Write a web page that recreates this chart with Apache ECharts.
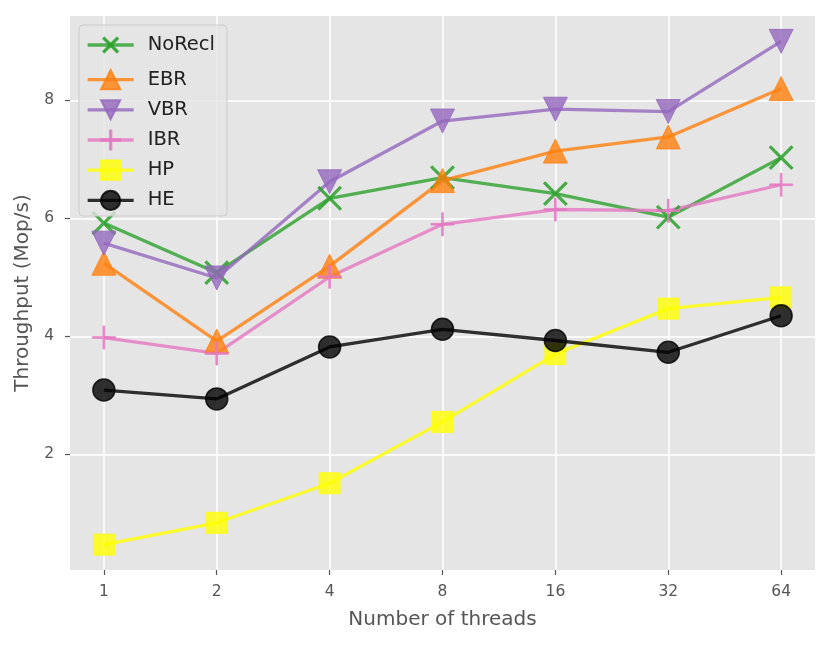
<!DOCTYPE html>
<html><head><meta charset="utf-8">
<script src="https://cdn.jsdelivr.net/npm/echarts@6/dist/echarts.min.js"></script>
<style>html,body{margin:0;padding:0;background:#fff}#c{width:831px;height:646px}</style>
</head><body><div id="c"></div>
<script>
const categories = ['1','2','4','8','16','32','64'];
const noRecl = [5.92, 5.08, 6.34, 6.69, 6.42, 6.02, 7.03];
const ebr    = [5.24, 3.92, 5.19, 6.64, 7.14, 7.38, 8.20];
const vbr    = [5.58, 4.99, 6.62, 7.65, 7.85, 7.81, 9.00];
const ibr    = [3.98, 3.71, 5.01, 5.90, 6.15, 6.13, 6.57];
const hp     = [0.47, 0.84, 1.51, 2.55, 3.70, 4.47, 4.66];
const he     = [3.09, 2.94, 3.82, 4.12, 3.93, 3.73, 4.35];
const yTicks = [2, 4, 6, 8];

const PLUS = 'path://M9.3,0 H10.7 V9.3 H20 V10.7 H10.7 V20 H9.3 V10.7 H0 V9.3 H9.3 Z';
const toPts = arr => arr.map((v, i) => [i, v]);

function mk(name, data, color, symbol, size, extra) {
  return Object.assign({
    name, type: 'line', data: toPts(data),
    symbol, symbolSize: size,
    lineStyle: { color, width: 3.3, opacity: 0.8 },
    itemStyle: { color, opacity: 0.8, borderColor: color, borderWidth: 1 },
    emphasis: { disabled: true },
    animation: false
  }, extra || {});
}

const series = [
  mk('NoRecl', noRecl, '#2ca02c', PLUS, 31, { symbolRotate: 45 }),
  mk('EBR', ebr, '#ff7f0e', 'triangle', 24),
  mk('VBR', vbr, '#9467bd', 'triangle', 24, { symbolRotate: 180 }),
  mk('IBR', ibr, '#e377c2', PLUS, 23),
  mk('HP', hp, '#ffff00', 'rect', 21),
  mk('HE', he, '#000000', 'circle', 22)
];
series[5].itemStyle = { color: '#000', opacity: 0.8, borderColor: '#000', borderWidth: 1.5 };

const axisTitle = { color: '#555', fontSize: 20, fontFamily: 'DejaVu Sans' };
const tickLbl = { color: '#555', fontSize: 15.5, fontFamily: 'DejaVu Sans' };

const chart = echarts.init(document.getElementById('c'), null, { renderer: 'canvas' });
chart.setOption({
  backgroundColor: '#fff',
  animation: false,
  grid: { left: 70, right: 16, top: 16, bottom: 76, show: true, backgroundColor: '#E5E5E5', borderWidth: 0,
          containLabel: false, outerBoundsMode: 'none' },
  xAxis: {
    type: 'value', min: -0.3, max: 6.3,
    name: 'Number of threads', nameLocation: 'middle', nameGap: 40,
    nameTextStyle: axisTitle,
    axisLine: { show: false, onZero: false },
    axisTick: { show: true, length: 5, lineStyle: { color: '#555', width: 1.2 }, customValues: [0,1,2,3,4,5,6] },
    axisLabel: Object.assign({ margin: 14, customValues: [0,1,2,3,4,5,6], formatter: v => categories[Math.round(v)] }, tickLbl),
    splitLine: { show: true, lineStyle: { color: '#fff', width: 1.5 } }
  },
  yAxis: {
    type: 'value', min: 0.04, max: 9.43,
    name: 'Throughput (Mop/s)', nameLocation: 'middle', nameGap: 35,
    nameTextStyle: axisTitle,
    axisLine: { show: false, onZero: false },
    axisTick: { show: true, length: 5, lineStyle: { color: '#555', width: 1.2 }, customValues: yTicks },
    axisLabel: Object.assign({ margin: 16, customValues: yTicks }, tickLbl),
    splitLine: { show: true, lineStyle: { color: '#fff', width: 1.5 } }
  },
  legend: {
    orient: 'vertical', left: 79, top: 25,
    itemWidth: 46, itemHeight: 24, itemGap: 9,
    padding: [5, 12, 5, 7],
    backgroundColor: 'rgba(229,229,229,0.8)', borderColor: '#cccccc', borderWidth: 1, borderRadius: 4,
    lineStyle: { width: 3.3 },
    textStyle: { color: '#222', fontSize: 19.5, fontFamily: 'DejaVu Sans', padding: [0, 0, 0, 9] },
    data: ['NoRecl','EBR','VBR','IBR','HP','HE']
  },
  series
});
</script></body></html>
